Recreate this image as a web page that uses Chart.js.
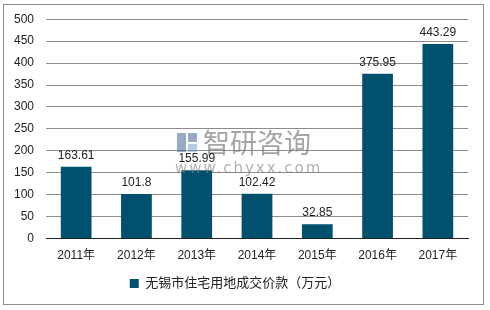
<!DOCTYPE html>
<html>
<head>
<meta charset="utf-8">
<script src="https://cdn.jsdelivr.net/npm/chart.js@4.4.0/dist/chart.umd.min.js"></script>
<style>
  body { margin: 0; background: #fff; }
  #wrap { width: 490px; height: 310px; }
</style>
</head>
<body>
<div id="wrap"><canvas id="chart" width="490" height="310"></canvas></div>
<script>
// Chart data
const years = ['2011年', '2012年', '2013年', '2014年', '2015年', '2016年', '2017年'];
const values = [163.61, 101.8, 155.99, 102.42, 32.85, 375.95, 443.29];
const valueLabels = ['163.61', '101.8', '155.99', '102.42', '32.85', '375.95', '443.29'];
const seriesName = '无锡市住宅用地成交价款（万元）';

const fontFamily = '"Liberation Sans", Arial, "Noto Sans CJK SC", sans-serif';
const barColor = '#00506e';

// Outer frame + watermark
const framePlugin = {
    id: 'frame',
    beforeDraw(chart) {
        const c = chart.ctx;
        c.save();
        c.fillStyle = '#fff';
        c.fillRect(0, 0, chart.width, chart.height);
        c.strokeStyle = '#8c8c8c';
        c.lineWidth = 1;
        c.strokeRect(3.5, 4.5, 480, 300);
        c.restore();
    },
    afterDatasetsDraw(chart) {
        const c = chart.ctx;
        c.save();
        c.textBaseline = 'alphabetic';
        c.fillStyle = 'rgba(125,125,125,0.7)';
        c.font = '27px "Noto Sans CJK SC", sans-serif';
        c.fillText('智研咨询', 203, 153);
        c.font = '15px "DejaVu Sans", sans-serif';
        c.letterSpacing = '2px';
        c.fillStyle = 'rgba(125,125,125,0.6)';
        c.fillText('www.chyxx.com', 175, 173);
        c.letterSpacing = '0px';
        c.fillStyle = 'rgba(70,100,150,0.55)';
        c.fillRect(177, 133, 9, 19);
        c.fillRect(188, 133, 9, 9);
        c.fillStyle = 'rgba(120,160,200,0.55)';
        c.fillRect(188, 144, 9, 8);
        c.restore();
    }
};

// Value labels above bars
const labelPlugin = {
    id: 'valueLabels',
    afterDatasetsDraw(chart) {
        const c = chart.ctx;
        const meta = chart.getDatasetMeta(0);
        c.save();
        c.font = '12px ' + fontFamily;
        c.fillStyle = '#222';
        c.textAlign = 'center';
        c.textBaseline = 'bottom';
        meta.data.forEach((bar, i) => {
            c.fillText(valueLabels[i], bar.x, bar.y - 5);
        });
        c.restore();
    }
};

new Chart(document.getElementById('chart'), {
    type: 'bar',
    data: {
        labels: years,
        datasets: [{
            label: seriesName,
            data: values,
            backgroundColor: barColor,
            borderWidth: 0,
            categoryPercentage: 1,
            barPercentage: 0.51
        }]
    },
    options: {
        responsive: false,
        animation: false,
        layout: { padding: { left: 2, right: 22, top: 13, bottom: 10 } },
        plugins: {
            legend: {
                position: 'bottom',
                labels: {
                    boxWidth: 9,
                    boxHeight: 9,
                    padding: 12,
                    color: '#222',
                    font: { family: fontFamily, size: 13 }
                }
            },
            tooltip: { enabled: false }
        },
        scales: {
            x: {
                grid: { display: false },
                border: { color: '#222', width: 1 },
                ticks: {
                    color: '#222',
                    padding: 2,
                    font: { family: fontFamily, size: 12 }
                }
            },
            y: {
                min: 0,
                max: 500,
                ticks: {
                    stepSize: 50,
                    color: '#222',
                    padding: 12,
                    font: { family: fontFamily, size: 12 }
                },
                grid: { color: '#8c8c8c', drawTicks: false },
                border: { display: false }
            }
        }
    },
    plugins: [framePlugin, labelPlugin]
});
</script>
</body>
</html>
